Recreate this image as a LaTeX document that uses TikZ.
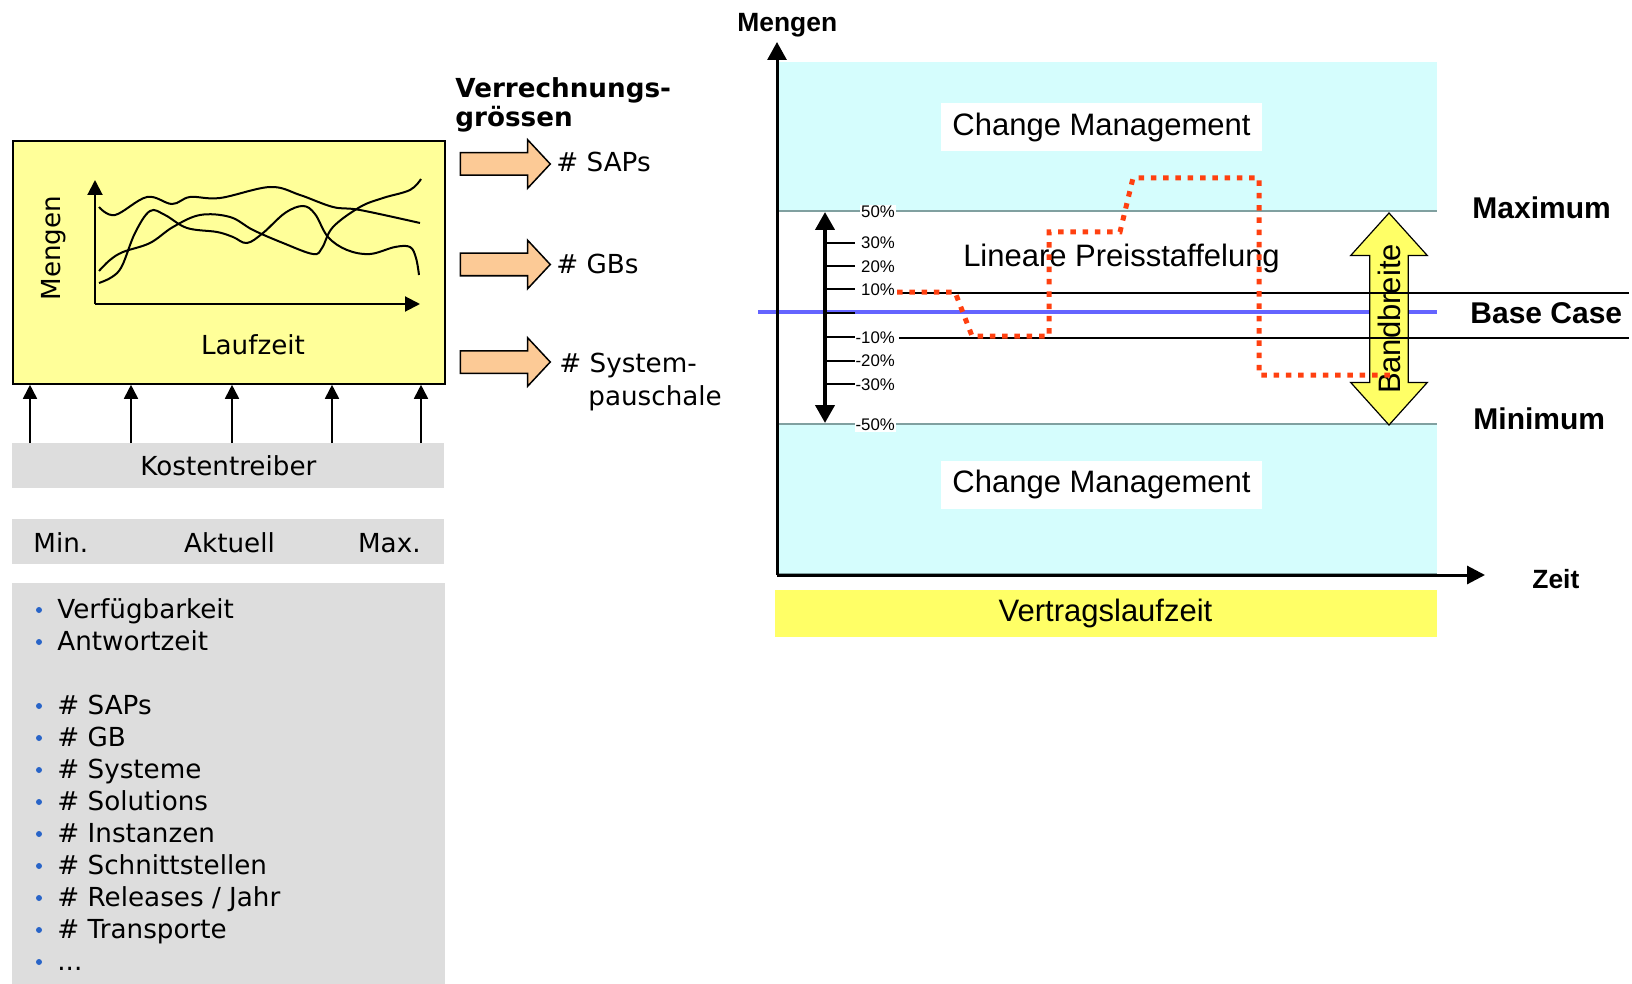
\documentclass[tikz,border=0pt]{standalone}
\usepackage{fontspec}
\setmainfont{Liberation Sans}
\newfontfamily\verd{DejaVu Sans}
\usetikzlibrary{arrows.meta,shapes.arrows,calc}
\definecolor{lyellow}{RGB}{255,255,153}
\definecolor{kgrey}{RGB}{221,221,221}
\definecolor{peach}{RGB}{252,202,150}
\definecolor{lcyan}{RGB}{213,253,253}
\definecolor{vyellow}{RGB}{255,255,102}
\definecolor{bline}{RGB}{100,100,255}
\definecolor{rdot}{RGB}{255,64,16}
\definecolor{gline}{RGB}{128,160,160}
\definecolor{bul}{RGB}{40,100,200}
\begin{document}
\begin{tikzpicture}[x=0.5pt,y=-0.5pt,
  lt/.style={font=\verd\fontsize{13.1}{15}\selectfont, inner sep=0pt},
  lbt/.style={font=\verd\bfseries\fontsize{13.1}{15}\selectfont, inner sep=0pt, anchor=base west},
  rt/.style={font=\fontsize{15.5}{18}\selectfont},
  rbt/.style={font=\bfseries\fontsize{15}{18}\selectfont, inner sep=0pt, anchor=base west},
  pct/.style={font=\fontsize{8.4}{10}\selectfont, fill=white, inner sep=0.4pt, anchor=east},
  greybar/.style={fill=kgrey, anchor=north west, inner sep=0pt, minimum width=216pt},
  peacharrow/.style={single arrow, draw, line width=0.75pt, fill=peach, minimum width=23.5pt, minimum height=45pt, single arrow head extend=6.5pt, single arrow tip angle=94, inner xsep=0pt, inner ysep=5.25pt},
  wavy/.style={line width=1pt},
  kup/.style={line width=0.9pt, -{Triangle[length=7pt,width=7pt]}},
  tickline/.style={line width=0.75pt},
  reddot/.style={draw=rdot, line width=2.5pt, dash pattern=on 2.75pt off 3.4pt},
  cmbox/.style={rt, fill=white, minimum width=160.5pt, minimum height=24pt, inner sep=0pt},
]
\useasboundingbox (0,0) rectangle (1632,984);

% ---------------- left part ----------------
\node[draw, line width=0.9pt, fill=lyellow, anchor=north west, minimum width=216pt, minimum height=121.5pt, inner sep=0pt] (ybox) at (12,140) {};
\coordinate (o) at (95,304);
\coordinate (ytop) at (95,180);
\coordinate (xend) at (420,304);
\draw[line width=1pt, -{Triangle[length=7.5pt,width=7.5pt]}] (o) -- (ytop);
\draw[line width=1pt, -{Triangle[length=7.5pt,width=7.5pt]}] (o) -- (xend);
\draw[wavy] plot[smooth, tension=0.6] coordinates {(99,207) (115,215) (147,197) (172,204) (190,197) (220,198) (270,187) (300,195) (333,207) (360,210) (420,223)};
\draw[wavy] plot[smooth, tension=0.6] coordinates {(99,283) (112,277) (122,266) (135,233) (150,211) (165,215) (187,228) (217,232) (233,237) (247,243) (263,233) (285,213) (303,206) (315,214) (328,237) (347,250) (370,254) (395,247) (410,247) (416,258) (419,275)};
\draw[wavy] plot[smooth, tension=0.6] coordinates {(99,271) (110,260) (123,252) (150,243) (173,227) (200,215) (230,217) (253,230) (283,243) (313,254) (322,248) (333,227) (360,207) (383,198) (410,190) (421,179)};
\node[lt, rotate=90, anchor=base] (mengenl) at (60,248) {Mengen};
\node[lt, anchor=base] (laufzeit) at (253,354) {Laufzeit};

\node[greybar, minimum height=22.5pt, lt] (kost) at (12,443) {Kostentreiber};
\foreach \x in {30,131,232,332,421}{
  \draw[kup] ($(kost.north west)+(\x-12,0)$) -- ($(ybox.south west)+(\x-12,0)$);
}

\node[greybar, minimum height=22.5pt] (mbar) at (12,519) {};
\node[lt, anchor=base west] (tmin) at (33,552) {Min.};
\node[lt, anchor=base] (takt) at (229.5,552) {Aktuell};
\node[lt, anchor=base east] (tmax) at (421,552) {Max.};

\node[greybar, minimum width=216.5pt, minimum height=200.5pt] (lbox) at (12,583) {};
\foreach \t/\y [count=\i] in {Verfügbarkeit/618, Antwortzeit/650, {\# SAPs}/714, {\# GB}/746, {\# Systeme}/778, {\# Solutions}/810, {\# Instanzen}/842, {\# Schnittstellen}/874, {\# Releases / Jahr}/906, {\# Transporte}/938, {...}/970}{
  \fill[bul] (39,\y-8) circle (1.5pt);
  \node[lt, anchor=base west] (li\i) at (57,\y) {\t};
}

% Verrechnungsgroessen
\node[lbt] (vg1) at (455,98) {Verrechnungs-};
\node[lbt] (vg2) at (455,127) {grössen};
\node[peacharrow] (pa1) at (500,164) {};
\node[peacharrow] (pa2) at (500,264.5) {};
\node[peacharrow] (pa3) at (500,362) {};
\node[lt, anchor=base west] (sap) at (556,172) {\# SAPs};
\node[lt, anchor=base west] (gbs) at (556,273) {\# GBs};
\node[lt, anchor=base west] (sys1) at (559,372) {\# System-};
\node[lt, anchor=base west] (sys2) at (588,405) {pauschale};

% ---------------- right part ----------------
\fill[lcyan] (779,62) rectangle (1437,211);
\fill[lcyan] (779,424) rectangle (1437,575);
\draw[gline, line width=0.75pt] (777,211) -- (1437,211);
\draw[gline, line width=0.75pt] (777,424) -- (1437,424);
\draw[gline, line width=0.75pt] (777,574) -- (1437,574);

\node[cmbox] (cm1) at (1101.5,127) {Change Management};
\node[cmbox] (cm2) at (1101.5,484.5) {Change Management};
\node[rt, fill=vyellow, minimum width=331pt, minimum height=23.5pt, inner sep=0pt] (vlz) at (1105.5,613.5) {Vertragslaufzeit};

\draw[bline, line width=1.75pt] (758,312) -- (1437,312);

\node[double arrow, draw, line width=0.6pt, fill=vyellow, rotate=90, rt, minimum height=106pt, minimum width=37.5pt, double arrow head extend=9.5pt, double arrow tip angle=84, inner xsep=0pt, inner ysep=3.6pt] (bb) at (1389,319) {Bandbreite};

\draw[line width=0.65pt] (899,293) -- (1629,293);
\draw[line width=0.65pt] (899,338) -- (1629,338);

\coordinate (dtop) at (825,212);
\coordinate (dbot) at (825,423);
\draw[line width=2pt, {Triangle[length=9pt,width=9.5pt]}-{Triangle[length=9pt,width=9.5pt]}] (dtop) -- (dbot);
\foreach \y in {243,266,289,313,337,361,384}{
  \draw[tickline] (826,\y) -- (855,\y);
}
\node[pct] (p50) at (896,212) {50\%};
\node[pct] (p30) at (896,243) {30\%};
\node[pct] (p20) at (896,267) {20\%};
\node[pct] (p10) at (896,290) {10\%};
\node[pct] (m10) at (896,338) {-10\%};
\node[pct] (m20) at (896,361) {-20\%};
\node[pct] (m30) at (896,385) {-30\%};
\node[pct] (m50) at (896,425) {-50\%};

\node[rt, inner sep=0pt, anchor=base] (lps) at (1121.5,267) {Lineare Preisstaffelung};

\draw[reddot] (897,292) -- (955,292) -- (972,336) -- (1049,336) -- (1049,232) -- (1120,232) -- (1133,178) -- (1259,178) -- (1259,375) -- (1392,375);

\coordinate (O) at (777,575);
\coordinate (ymax) at (777,42);
\coordinate (xmax) at (1485,575);
\draw[line width=1.5pt, -{Triangle[length=9pt,width=9.5pt]}] (O) -- (ymax);
\draw[line width=1.5pt, -{Triangle[length=9pt,width=9pt]}] (O) -- (xmax);

\node[rbt, font=\bfseries\fontsize{13.2}{15}\selectfont] (mengenr) at (737,32) {Mengen};
\node[rbt, font=\bfseries\fontsize{13.2}{15}\selectfont] (zeit) at (1532,588) {Zeit};
\node[rbt] (maxl) at (1472,219) {Maximum};
\node[rbt] (basel) at (1470,323) {Base Case};
\node[rbt] (minl) at (1473,429) {Minimum};
\end{tikzpicture}
\end{document}
